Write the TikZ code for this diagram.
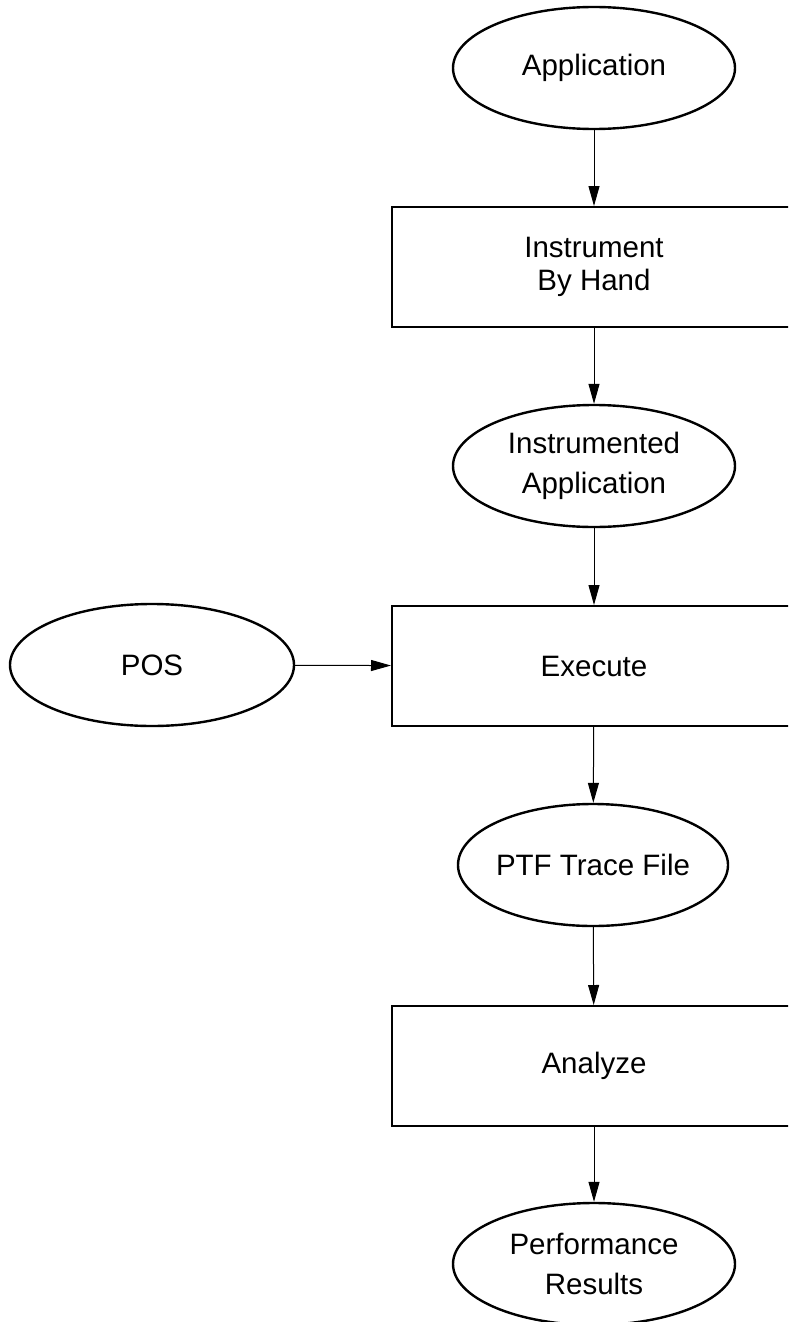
\documentclass[tikz,border=0pt]{standalone}
\usepackage{fontspec}
\setmainfont{Liberation Sans}
\usetikzlibrary{shapes.geometric,arrows.meta}
\begin{document}
\begin{tikzpicture}[x=0.5pt,y=-0.5pt,
  oval/.style={ellipse,draw,line width=1.2pt,minimum width=141pt,minimum height=61pt,
    inner sep=0pt,align=center,font=\fontsize{14.75}{20}\selectfont},
  proc/.style={rectangle,draw,line width=1pt,minimum width=202pt,minimum height=60pt,
    inner sep=0pt,align=center,font=\fontsize{14.75}{16.5}\selectfont},
  conn/.style={line width=0.5pt,-{Triangle[length=10pt,width=5.5pt]}}]
\useasboundingbox (0,0) rectangle (788,1322);
\clip (0,0) rectangle (788,1322);
\node[oval] (app) at (594,68) {Application};
\node[proc] (ibh) at (594,267) {Instrument\\By Hand};
\node[oval] (iapp) at (594,466) {Instrumented\\Application};
\node[proc] (exe) at (594,666) {Execute};
\node[oval,minimum width=142pt] (pos) at (152,665) {POS};
\node[oval,minimum width=135pt] (ptf) at (593,865) {\makebox[0pt]{PTF Trace File}};
\node[proc] (ana) at (594,1066) {Analyze};
\node[oval] (perf) at (594,1264) {Performance\\Results};
\draw[conn] (app) -- (ibh);
\draw[conn] (ibh) -- (iapp);
\draw[conn] (iapp) -- (exe);
\draw[conn] (pos) -- (exe);
\draw[conn] (exe) -- (ptf);
\draw[conn] (ptf) -- (ana);
\draw[conn] (ana) -- (perf);
\end{tikzpicture}
\end{document}
